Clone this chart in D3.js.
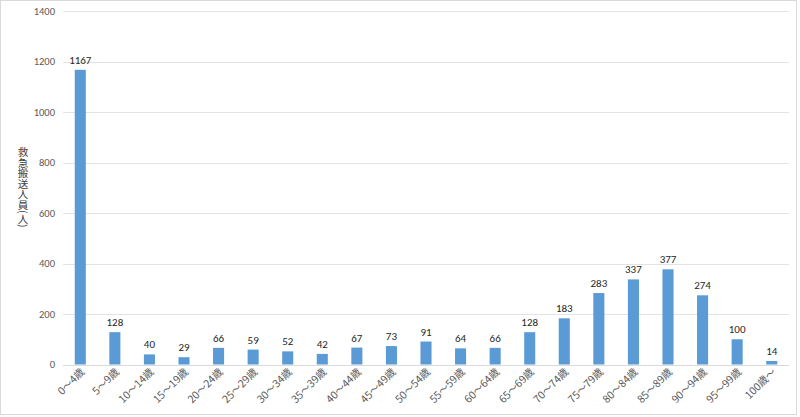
<!DOCTYPE html>
<html><head><meta charset="utf-8">
<script src="https://cdn.jsdelivr.net/npm/d3@7"></script>
<style>
body{margin:0;background:#fff;}
svg{display:block;font-family:"Noto Sans CJK JP","Noto Sans",sans-serif;}
</style></head><body>
<svg id="c" width="800" height="417"></svg>
<script>
const categories = ["0〜4歳","5〜9歳","10〜14歳","15〜19歳","20〜24歳","25〜29歳","30〜34歳","35〜39歳","40〜44歳","45〜49歳","50〜54歳","55〜59歳","60〜64歳","65〜69歳","70〜74歳","75〜79歳","80〜84歳","85〜89歳","90〜94歳","95〜99歳","100歳〜"];
const values = [1167,128,40,29,66,59,52,42,67,73,91,64,66,128,183,283,337,377,274,100,14];
const yTicks = [0,200,400,600,800,1000,1200,1400];
const yTitle = "救急搬送人員(人)";

(function(){
const svg = d3.select("#c");
svg.append("rect").attr("x",0.5).attr("y",0.5).attr("width",796).attr("height",414)
  .attr("fill","#fff").attr("stroke","#d9d9d9");

const mLeft = 63, mRight = 789, mTop = 11, mBottom = 364.5;
const x = d3.scaleBand().domain(categories).range([mLeft, mRight]).paddingInner(0.68).paddingOuter(0.34);
const y = d3.scaleLinear().domain([0,1400]).range([mBottom, mTop]);

svg.append("g").selectAll("line").data(yTicks).join("line")
  .attr("x1",mLeft).attr("x2",mRight)
  .attr("y1",d=>Math.round(y(d))+0.5).attr("y2",d=>Math.round(y(d))+0.5)
  .attr("stroke",d=>d===0?"#d9d9d9":"#e3e3e3").attr("stroke-width",1);

const yAxis = d3.axisLeft(y).tickValues(yTicks).tickSize(0).tickPadding(0).tickFormat(d3.format("d"));
const gy = svg.append("g").attr("transform",`translate(${mLeft-8},0)`).call(yAxis);
gy.select(".domain").remove();
gy.selectAll("text").attr("fill","#595959").attr("font-size",10.5).attr("font-family","Calibri,'Liberation Sans','Noto Sans',sans-serif");

svg.append("g").selectAll("rect").data(values).join("rect")
  .attr("x",(d,i)=>x(categories[i]))
  .attr("width",x.bandwidth())
  .attr("y",d=>y(d))
  .attr("height",d=>mBottom-y(d))
  .attr("fill","#5B9BD5");

svg.append("g").selectAll("text").data(values).join("text")
  .attr("x",(d,i)=>x(categories[i])+x.bandwidth()/2)
  .attr("y",d=>y(d)-6)
  .attr("text-anchor","middle")
  .attr("font-size",11)
  .attr("fill","#262626")
  .attr("font-family","Calibri,'Liberation Sans','Noto Sans',sans-serif")
  .text(d=>d);

const xAxis = d3.axisBottom(x).tickSize(0).tickPadding(0);
const gx = svg.append("g").attr("transform",`translate(0,${mBottom})`).call(xAxis);
gx.select(".domain").remove();
gx.selectAll("text")
  .attr("font-size",10.5).attr("fill","#595959")
  .attr("font-family","'Noto Sans CJK JP',sans-serif")
  .attr("text-anchor","end")
  .attr("dy",0)
  .attr("transform","translate(5,8) rotate(-45)");

svg.append("text")
  .attr("x",23).attr("y",147)
  .attr("font-size",10.5).attr("fill","#404040")
  .style("writing-mode","vertical-rl")
  .style("text-orientation","mixed")
  .attr("font-family","'Noto Sans CJK JP',sans-serif")
  .text(yTitle);
})();
</script>
</body></html>
